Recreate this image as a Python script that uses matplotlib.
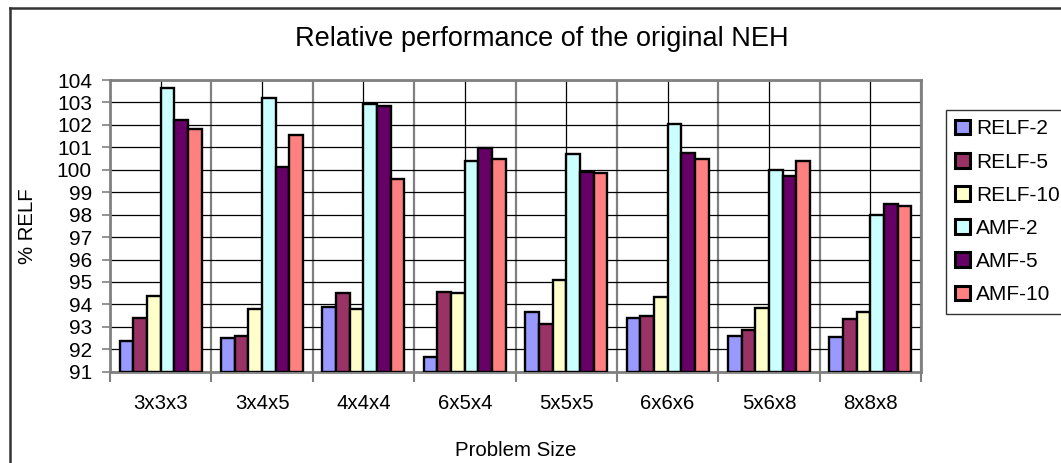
import matplotlib
matplotlib.use("Agg")
import matplotlib.pyplot as plt
from matplotlib.lines import Line2D
from matplotlib.patches import Patch
import numpy as np

plt.rcParams["font.family"] = ["Liberation Sans", "DejaVu Sans"]

sizes = ["3x3x3", "3x4x5", "4x4x4", "6x5x4", "5x5x5", "6x6x6", "5x6x8", "8x8x8"]
series = ["RELF-2", "RELF-5", "RELF-10", "AMF-2", "AMF-5", "AMF-10"]
colors = ["#9999FF", "#993366", "#FFFFCC", "#CCFFFF", "#660066", "#FF8080"]

relf_2 = [92.39, 92.48, 93.88, 91.66, 93.67, 93.39, 92.58, 92.55]
relf_5 = [93.40, 92.57, 94.49, 94.57, 93.12, 93.49, 92.87, 93.36]
relf_10 = [94.37, 93.81, 93.79, 94.51, 95.10, 94.34, 93.85, 93.67]
amf_2 = [103.66, 103.21, 102.95, 100.40, 100.71, 102.04, 99.99, 97.97]
amf_5 = [102.20, 100.14, 102.84, 100.95, 99.90, 100.74, 99.70, 98.47]
amf_10 = [101.82, 101.55, 99.61, 100.46, 99.84, 100.49, 100.40, 98.37]
values = [relf_2, relf_5, relf_10, amf_2, amf_5, amf_10]

W, H = 1061, 463
fig = plt.figure(figsize=(W / 100, H / 100), dpi=100)
ax = fig.add_axes([110 / W, (H - 371.7) / H, (921 - 110) / W, (371.7 - 80) / H])

base = 91
bar_w = 0.135
x = np.arange(len(sizes))
for j, (name, vals, col) in enumerate(zip(series, values, colors)):
    heights = np.array(vals) - base
    ax.bar(x + (j - 2.5) * bar_w, heights, bottom=base, width=bar_w,
           color=col, edgecolor="black", linewidth=1.7, label=name, zorder=3)

ax.set_xlim(-0.5, len(sizes) - 0.5)
ax.set_ylim(91, 104)
ax.set_yticks(np.arange(91, 105, 1))

# boundaries get ticks + grey grid, centres get the labels + thin black grid
ax.set_xticks(np.arange(len(sizes) + 1) - 0.5)
ax.set_xticklabels([])
ax.set_xticks(x, minor=True)
ax.set_xticklabels(sizes, minor=True)
ax.tick_params(axis="x", which="major", length=7, width=1.5, color="#808080", direction="out")
ax.tick_params(axis="x", which="minor", length=0, pad=16, labelsize=14.7)
ax.tick_params(axis="y", length=6, width=1.2, color="#808080", direction="out", pad=7, labelsize=15)

ax.grid(axis="y", color="black", linewidth=0.9, zorder=0)
ax.grid(axis="x", which="major", color="#808080", linewidth=1.6, zorder=0)
ax.grid(axis="x", which="minor", color="black", linewidth=0.9, zorder=0)
ax.set_axisbelow(True)

for side in ["top", "right", "left", "bottom"]:
    ax.spines[side].set_color("#808080")
    ax.spines[side].set_linewidth(2)

ax.set_ylabel("% RELF", fontsize=14.7)
ax.yaxis.set_label_coords(-0.09, 0.5)

fig.text(516 / W, 1 - 450 / H, "Problem Size", fontsize=14.7, ha="center", va="center")
fig.text(542 / W, 1 - 39 / H, "Relative performance of the original NEH",
         fontsize=19.5, ha="center", va="center")

# outer chart frame (only the top and left edges fall inside the image)
fig.add_artist(Line2D([10 / W, 1], [1 - 8 / H, 1 - 8 / H], color="#333333", linewidth=1.8))
fig.add_artist(Line2D([10 / W, 10 / W], [0, 1 - 8 / H], color="#333333", linewidth=1.8))

handles = [Patch(facecolor=c, edgecolor="black", linewidth=2.2) for c in colors]
leg = fig.legend(handles, series, loc="upper left", bbox_to_anchor=(946 / W, 1 - 110 / H),
                 fontsize=15, frameon=True, fancybox=False, edgecolor="black",
                 handlelength=0.7, handleheight=0.7, handletextpad=0.3,
                 labelspacing=0.68, borderpad=0.45, borderaxespad=0)
leg.get_frame().set_linewidth(1)

fig.savefig("out.png", dpi=100)
